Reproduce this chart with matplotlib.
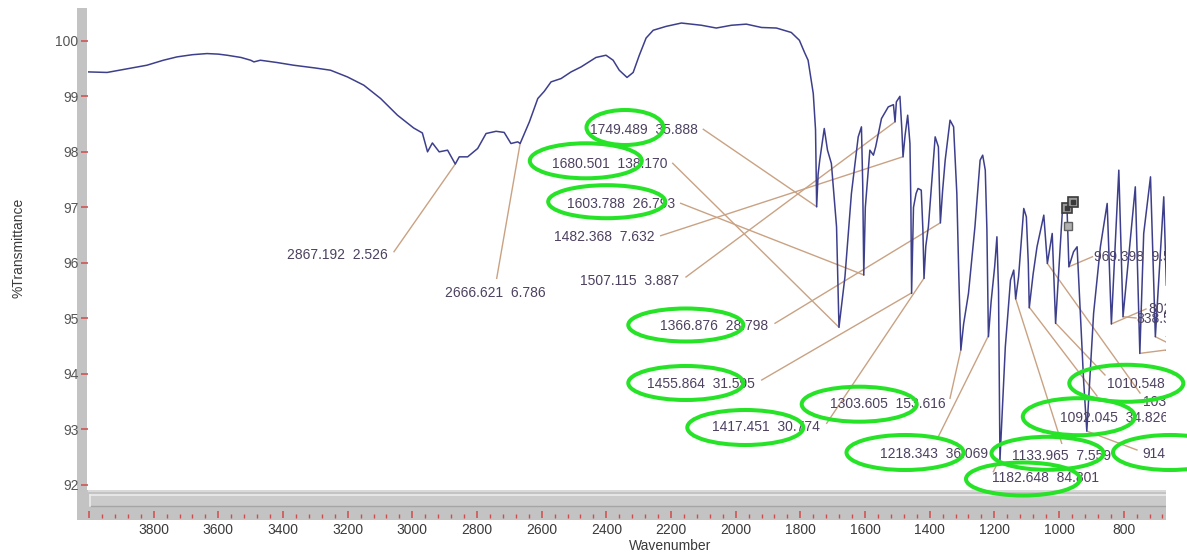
import numpy as np
import matplotlib
matplotlib.use("Agg")
import matplotlib.pyplot as plt
from matplotlib.patches import Ellipse, Rectangle

plt.rcParams['font.family'] = ['Liberation Sans', 'DejaVu Sans']

W, H = 1187, 557

# ---------------- data ----------------
wavenumber = [4004, 3944, 3888, 3821, 3770, 3728, 3680, 3635, 3600, 3573, 3530, 3500, 3490, 3470,
              3420, 3367, 3300, 3253, 3201, 3150, 3098, 3046, 2996, 2969, 2953, 2938, 2917, 2891,
              2867.2, 2855, 2829, 2798, 2772, 2741, 2716, 2695, 2674, 2666.6, 2638, 2612, 2592,
              2571, 2540, 2509, 2478, 2432, 2401, 2379, 2360, 2336, 2317, 2298, 2277, 2255, 2215,
              2168, 2106, 2060, 2013, 1967, 1920, 1874, 1828, 1803, 1787, 1776, 1760, 1753, 1749.5,
              1745, 1740, 1726, 1716, 1704, 1688, 1680.5, 1662, 1642, 1621, 1611, 1607, 1603.8,
              1599, 1585, 1574, 1567, 1549, 1528, 1512, 1507.1, 1503, 1492, 1486, 1482.4, 1476,
              1468, 1461, 1458, 1455.9, 1450, 1442, 1436, 1426, 1421, 1417.5, 1412, 1404, 1383,
              1373, 1366.9, 1360, 1352, 1337, 1326, 1316, 1310, 1303.6, 1295, 1280, 1260, 1244,
              1236, 1228, 1223, 1218.3, 1210, 1199, 1192, 1187, 1182.6, 1175, 1166, 1150, 1140,
              1134, 1125, 1114, 1109, 1101, 1095, 1092, 1080, 1068, 1047, 1036, 1021, 1010.5,
              990, 975, 969.4, 955, 944, 924, 914, 893, 872, 851, 838, 815, 802, 791, 764, 750,
              738, 717, 702, 676, 668]
transmittance = [99.44, 99.43, 99.49, 99.56, 99.65, 99.71, 99.75, 99.77, 99.76, 99.74, 99.70, 99.65,
                 99.62, 99.65, 99.61, 99.56, 99.51, 99.47, 99.35, 99.20, 98.96, 98.66, 98.43,
                 98.34, 98.00, 98.16, 98.00, 98.03, 97.78, 97.91, 97.91, 98.06, 98.33, 98.37,
                 98.35, 98.15, 98.18, 98.15, 98.54, 98.96, 99.09, 99.26, 99.32, 99.44, 99.53,
                 99.70, 99.74, 99.65, 99.47, 99.34, 99.43, 99.74, 100.05, 100.19, 100.26, 100.32,
                 100.28, 100.23, 100.28, 100.30, 100.24, 100.23, 100.15, 100.01, 99.79, 99.65,
                 99.05, 98.40, 97.01, 97.60, 97.85, 98.42, 98.03, 97.79, 96.65, 94.84, 95.75,
                 97.25, 98.27, 98.45, 97.40, 95.78, 97.00, 98.03, 97.94, 98.09, 98.60, 98.81,
                 98.85, 98.54, 98.90, 99.00, 98.40, 97.91, 98.30, 98.66, 98.15, 97.00, 95.45,
                 97.00, 97.25, 97.34, 97.31, 96.60, 95.72, 96.30, 96.65, 98.27, 98.09, 96.72,
                 97.30, 97.85, 98.57, 98.45, 97.25, 95.80, 94.43, 94.90, 95.45, 96.65, 97.85,
                 97.94, 97.67, 96.60, 94.67, 95.30, 95.93, 96.47, 95.50, 92.45, 93.40, 94.49,
                 95.69, 95.87, 95.35, 95.75, 96.59, 96.98, 96.83, 96.00, 95.19, 95.80, 96.29,
                 96.86, 95.99, 96.53, 94.91, 96.89, 96.95, 95.93, 96.20, 96.29, 93.89, 92.97,
                 95.09, 96.29, 97.07, 94.90, 97.67, 95.03, 95.71, 97.37, 94.37, 96.53, 97.55,
                 94.67, 97.19, 95.60]

peak_wn = [2867.192, 2666.621, 1749.489, 1680.501, 1603.788, 1482.368, 1507.115, 1366.876,
           1455.864, 1417.451, 1303.605, 1218.343, 1182.648, 1133.965, 1092.045, 1010.548,
           1036.0, 914.0, 969.398, 838.0, 802.0, 750.0, 702.0]
peak_labels = ['2867.192  2.526', '2666.621  6.786', '1749.489  35.888', '1680.501  138.170',
               '1603.788  26.793', '1482.368  7.632', '1507.115  3.887', '1366.876  28.798',
               '1455.864  31.595', '1417.451  30.774', '1303.605  153.616', '1218.343  36.069',
               '1182.648  84.801', '1133.965  7.559', '1092.045  34.826', '1010.548  30.1',
               '1036.1', '914.5', '969.398  9.5', '838.5', '802.5', '750.1', '702.1']

y_tick_values = [92, 93, 94, 95, 96, 97, 98, 99, 100]
x_tick_values = [4000, 3800, 3600, 3400, 3200, 3000, 2800, 2600, 2400, 2200, 2000, 1800,
                 1600, 1400, 1200, 1000, 800]
x_tick_labels = ['', '3800', '3600', '3400', '3200', '3000', '2800', '2600', '2400', '2200',
                 '2000', '1800', '1600', '1400', '1200', '1000', '800']

# ---------------- layout (pixel positions of the screenshot) ----------------
label_xy_px = [(287.3, 254.3), (445, 291.7), (590, 129), (551.7, 163.3), (566.7, 203.3),
               (554, 235.7), (580, 280), (660, 325), (646.7, 382.7), (711.7, 426),
               (830, 403.3), (880, 453.3), (991.7, 476.7), (1011.7, 455), (1060, 417.3),
               (1106.7, 383.3), (1143.3, 400.7), (1142.7, 453.3), (1094.5, 256),
               (1136.7, 318), (1148, 308), (1164, 341), (1164, 355)]
leader_start_px = [(394, 251.7), (496.7, 278.3), (703.3, 129.3), (672.7, 163.3), (680.7, 203.3),
                   (660.7, 235.7), (686, 277), (775, 323.3), (761.7, 380), (826.7, 423.3),
                   (950, 398.3), (938.3, 436.7), (993.3, 471.7), (1061.7, 443.3), (1097, 396),
                   (1105, 375), (1140, 393), (1137, 450), (1092.5, 256.7), (1146, 309),
                   (1136, 318), (1166, 350), (1166, 342)]
ellipses_px = [(625, 127.5, 77, 35), (585.8, 160.8, 112, 35), (606.7, 201.7, 117, 33),
               (685.8, 325, 115, 33), (685.8, 383, 115, 34), (745.3, 427.5, 116, 35),
               (859.2, 404.2, 115, 35), (905, 452.5, 117, 35), (1023, 479, 114, 33),
               (1047.5, 453.3, 112, 33), (1078.8, 416.7, 112, 37), (1126.3, 383.3, 114, 37),
               (1170, 452.5, 114, 35)]

AX_L, AX_R, AX_T, AX_B = 87.5, 1166, 8, 490
STRIP_B = 518

SPEC_COLOR = '#3d3f8c'
LEAD_COLOR = '#c9a283'
TEXT_COLOR = '#4d4160'
TICK_RED = '#d24a4a'

fig = plt.figure(figsize=(W / 100, H / 100), dpi=100)
fig.patch.set_facecolor('white')

# gray frame (left bar + bottom strip)
fig.add_artist(Rectangle((77 / W, 1 - 519.5 / H), (AX_L - 77) / W, (519.5 - AX_T) / H,
                         transform=fig.transFigure, facecolor='#c3c3c3', edgecolor='none', zorder=-1))
fig.add_artist(Rectangle((77 / W, 1 - 519.5 / H), (AX_R - 77) / W, (519.5 - AX_B) / H,
                         transform=fig.transFigure, facecolor='#c3c3c3', edgecolor='none', zorder=-1))

ax = fig.add_axes([AX_L / W, 1 - AX_B / H, (AX_R - AX_L) / W, (AX_B - AX_T) / H])
ax.set_facecolor('white')
x_left = 1000 + (1059 - AX_L) * 3.0928
x_right = 1000 + (1059 - AX_R) * 3.0928
ax.set_xlim(x_left, x_right)
ax.set_ylim(100 - (AX_B - 40.8) / 55.52, 100 + (40.8 - AX_T) / 55.52)
for s in ax.spines.values():
    s.set_visible(False)
ax.set_xticks([])
ax.set_yticks(y_tick_values)
ax.tick_params(axis='y', direction='out', length=5, width=1.1, color=TICK_RED,
               labelcolor='#555555', labelsize=10, pad=1.5)

ax.plot(wavenumber, transmittance, color=SPEC_COLOR, lw=1.1, zorder=3)


def px_to_data(x, y):
    return ax.transData.inverted().transform((x, H - y))


wn_asc = np.array(wavenumber)[::-1]
t_asc = np.array(transmittance)[::-1]

for wn, lab, (tx, ty), (sx, sy) in zip(peak_wn, peak_labels, label_xy_px, leader_start_px):
    ty_base = ty + 5
    dx, dy = px_to_data(tx, ty_base)
    ax.text(dx, dy, lab, fontsize=10, color=TEXT_COLOR, ha='left', va='baseline',
            clip_on=True, zorder=4)
    x0, y0 = px_to_data(sx, sy)
    yp = np.interp(wn, wn_asc, t_asc)
    ax.plot([x0, wn], [y0, yp], color=LEAD_COLOR, lw=1.0, zorder=2, clip_on=True)

# cursor markers near 969
for (mx, my) in [(1066.7, 208), (1073.3, 201.7)]:
    ddx, ddy = px_to_data(mx, my)
    ax.plot([ddx], [ddy], marker='s', ms=7, mfc='#9a9a9a', mec='#3a3a3a', mew=1.2, zorder=5)
    ax.plot([ddx], [ddy], marker='s', ms=2.5, mfc='#3a3a3a', mec='#3a3a3a', zorder=6)
bx, by = px_to_data(1068, 226)
ax.plot([bx], [by], marker='s', ms=6, mfc='#b0b0b0', mec='#606060', mew=1, zorder=5)

# bottom strip with scrollbar and x ticks
axs = fig.add_axes([AX_L / W, 1 - STRIP_B / H, (AX_R - AX_L) / W, (STRIP_B - AX_B) / H])
axs.set_facecolor('#c3c3c3')
axs.set_xlim(x_left, x_right)
axs.set_ylim(0, 1)
for s in axs.spines.values():
    s.set_visible(False)
axs.set_yticks([])
axs.set_xticks(x_tick_values)
axs.set_xticklabels(x_tick_labels)
axs.set_xticks(np.arange(680, 4001, 40), minor=True)
axs.tick_params(axis='x', which='major', direction='in', length=5, width=1.1, color=TICK_RED,
                labelsize=10, labelcolor='#3a3a3a', pad=3.5)
axs.tick_params(axis='x', which='minor', direction='in', length=3, width=1.0, color=TICK_RED)
sb_lo = (STRIP_B - 506) / (STRIP_B - AX_B)
sb_hi = (STRIP_B - 495) / (STRIP_B - AX_B)
axs.add_patch(Rectangle((0.002, sb_lo), 0.998, sb_hi - sb_lo, transform=axs.transAxes,
                        facecolor='#cbcbcb', edgecolor='none', zorder=1))
axs.plot([0.002, 1], [sb_hi, sb_hi], transform=axs.transAxes, color='#ececec', lw=1.2, zorder=2)
axs.plot([0.002, 1], [sb_lo, sb_lo], transform=axs.transAxes, color='#a5a5a5', lw=1.0, zorder=2)
axs.plot([0.002, 0.002], [sb_lo, sb_hi], transform=axs.transAxes, color='#ececec', lw=1.2, zorder=2)
top_line = (STRIP_B - 491) / (STRIP_B - AX_B)
axs.plot([0, 1], [top_line, top_line], transform=axs.transAxes, color='#dedede', lw=1.2, zorder=2)

# axis titles
fig.text(670 / W, 1 - 546 / H, 'Wavenumber', fontsize=10, color='#3a3a3a', ha='center', va='center')
fig.text(19 / W, 1 - 248 / H, '%Transmittance', fontsize=10, color='#3a3a3a', ha='center',
         va='center', rotation=90)

# green highlight ellipses
for (cx, cy, w, h) in ellipses_px:
    fig.add_artist(Ellipse((cx / W, 1 - cy / H), w / W, h / H, transform=fig.transFigure,
                           facecolor='none', edgecolor='#27e327', lw=2.9, zorder=10))

fig.savefig('out.png', dpi=100)
